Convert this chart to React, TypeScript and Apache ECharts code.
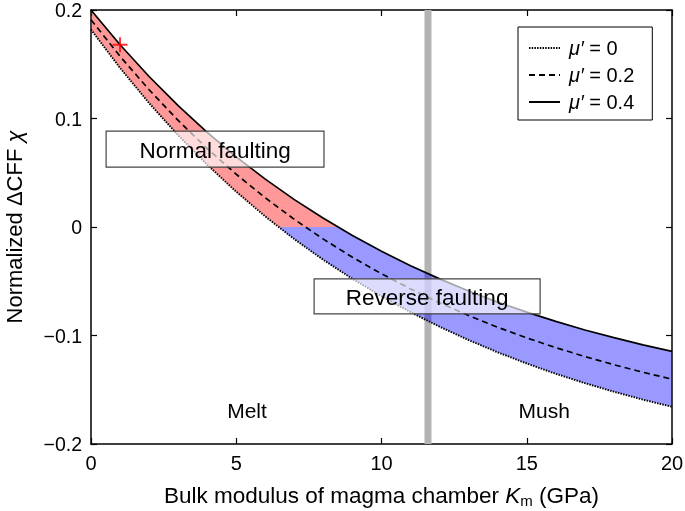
import React, { useEffect, useRef } from 'react';
import * as echarts from 'echarts';

// Bulk modulus of magma chamber K_m (GPa)
const kValues = [0, 1, 2, 3, 4, 5, 6, 7, 8, 9, 10, 11, 12, 13, 14, 15, 16, 17, 18, 19, 20];
// Normalized ΔCFF for μ' = 0 (dotted)
const chiMu0 = [0.182, 0.1466, 0.1142, 0.0846, 0.0574, 0.0325, 0.0097, -0.0112, -0.0303, -0.0478, -0.0638, -0.0785, -0.0919, -0.1042, -0.1155, -0.1258, -0.1353, -0.1439, -0.1518, -0.1591, -0.1657];
// μ' = 0.2 (dashed)
const chiMu02 = [0.191, 0.1573, 0.1265, 0.0982, 0.0723, 0.0486, 0.0269, 0.007, -0.0112, -0.0279, -0.0431, -0.0571, -0.0699, -0.0816, -0.0924, -0.1022, -0.1112, -0.1194, -0.1269, -0.1339, -0.1402];
// μ' = 0.4 (solid)
const chiMu04 = [0.2, 0.168, 0.1387, 0.1118, 0.0872, 0.0647, 0.0441, 0.0252, 0.008, -0.0079, -0.0224, -0.0357, -0.0478, -0.059, -0.0692, -0.0785, -0.087, -0.0949, -0.102, -0.1086, -0.1146];
const muLabels = ['0', '0.2', '0.4'];
const markerPoint = [1, 0.168];
const transitionK = 11.6;
const boxLabels = ['Normal faulting', 'Reverse faulting'];
const boxCorners = [
  [0.52, 0.0883, 8.02, 0.0552],
  [7.68, -0.0478, 15.46, -0.080],
];
const regionLabels = ['Melt', 'Mush'];
const regionAnchors = [[5.37, -0.169], [15.6, -0.169]];

const FONT = '"Liberation Sans", Arial, Helvetica, sans-serif';

function clipHalf(poly: number[][], above: boolean): number[][] {
  const inside = (p: number[]) => (above ? p[1] >= 0 : p[1] <= 0);
  const cross = (a: number[], b: number[]) => {
    const t = a[1] / (a[1] - b[1]);
    return [a[0] + t * (b[0] - a[0]), 0];
  };
  const out: number[][] = [];
  for (let i = 0; i < poly.length; i++) {
    const cur = poly[i];
    const prev = poly[(i + poly.length - 1) % poly.length];
    const ci = inside(cur);
    const pi = inside(prev);
    if (ci) {
      if (!pi) out.push(cross(prev, cur));
      out.push(cur);
    } else if (pi) {
      out.push(cross(prev, cur));
    }
  }
  return out;
}

function fmtY(v: number) {
  if (Math.abs(v) < 1e-9) return '0';
  return (v < 0 ? '\u2212' : '') + Math.abs(v).toFixed(1);
}

export default function App() {
  const ref = useRef<HTMLDivElement>(null);
  useEffect(() => {
    if (!ref.current) return;
    const chart = echarts.init(ref.current, undefined, { renderer: 'svg' });
    const band = [
      ...kValues.map((k, i) => [k, chiMu04[i]]),
      ...kValues.map((k, i) => [k, chiMu0[i]]).reverse(),
    ];
    const axisCommon = {
      type: 'value' as const,
      axisLine: { show: true, onZero: false, lineStyle: { color: '#000', width: 1.5 } },
      axisTick: { show: true, inside: true, length: 6, lineStyle: { color: '#000', width: 1.2 } },
      splitLine: { show: false },
    };
    const option: any = {
      animation: false,
      grid: { left: 91, right: 13, top: 10, bottom: 67, containLabel: false, outerBoundsMode: 'none' },
      legend: {
        orient: 'vertical',
        left: 518,
        top: 27,
        data: muLabels,
        formatter: (n: string) => `{i|\u03bc\u2032} = ${n}`,
        itemWidth: 31,
        itemHeight: 14,
        itemGap: 7,
        borderColor: '#000',
        borderWidth: 1,
        padding: [11, 18, 8, 10],
        itemStyle: { opacity: 0, borderWidth: 0 },
        textStyle: {
          fontSize: 20, color: '#000', fontFamily: FONT, lineHeight: 20, padding: [0, 0, 0, 4],
          rich: { i: { fontStyle: 'italic', fontSize: 20, fontFamily: FONT, lineHeight: 20 } },
        },
      },
      xAxis: [
        {
          ...axisCommon,
          min: 0, max: 20, interval: 5,
          axisLabel: { color: '#000', fontSize: 20, fontFamily: FONT, margin: 9 },
          name: '{a|Bulk modulus of magma chamber }{k|K}{s|m}{a| (GPa)}',
          nameLocation: 'middle',
          nameGap: 38,
          nameTextStyle: {
            color: '#000',
            rich: {
              a: { fontSize: 22.5, fontFamily: FONT, color: '#000', lineHeight: 26, verticalAlign: 'middle' },
              k: { fontSize: 22.5, fontFamily: FONT, color: '#000', fontStyle: 'italic', lineHeight: 26, verticalAlign: 'middle' },
              s: { fontSize: 15, fontFamily: FONT, color: '#000', lineHeight: 15, verticalAlign: 'bottom' },
            },
          },
        },
        {
          ...axisCommon,
          position: 'top',
          min: 0, max: 20, interval: 5,
          axisLabel: { show: false },
        },
      ],
      yAxis: [
        {
          ...axisCommon,
          min: -0.2, max: 0.2, interval: 0.1,
          axisLabel: { color: '#000', fontSize: 19.5, fontFamily: FONT, margin: 9, formatter: fmtY },
          name: '{a|Normalized \u0394CFF }{c|\u03c7}',
          nameLocation: 'middle',
          nameGap: 66,
          nameTextStyle: {
            color: '#000',
            rich: {
              a: { fontSize: 22, fontFamily: FONT, color: '#000' },
              c: { fontSize: 22, fontFamily: FONT, color: '#000', fontStyle: 'italic' },
            },
          },
        },
        {
          ...axisCommon,
          position: 'right',
          min: -0.2, max: 0.2, interval: 0.1,
          axisLabel: { show: false },
        },
      ],
      series: [
        {
          type: 'custom',
          z: 1,
          silent: true,
          data: [[transitionK, 0]],
          renderItem: (_p: any, api: any) => {
            const a = api.coord([transitionK, -0.2]);
            const b = api.coord([transitionK, 0.2]);
            return {
              type: 'line',
              shape: { x1: a[0], y1: a[1], x2: b[0], y2: b[1] },
              style: { stroke: '#b3b3b3', lineWidth: 7 },
            };
          },
        },
        {
          type: 'custom',
          z: 2,
          silent: true,
          data: [[0, 0]],
          renderItem: (_p: any, api: any) => {
            const red = clipHalf(band, true).map((p) => api.coord(p));
            const blue = clipHalf(band, false).map((p) => api.coord(p));
            return {
              type: 'group',
              children: [
                { type: 'polygon', shape: { points: red }, style: { fill: 'rgba(255,0,0,0.4)' } },
                { type: 'polygon', shape: { points: blue }, style: { fill: 'rgba(0,0,255,0.4)' } },
              ],
            };
          },
        },
        {
          name: muLabels[0],
          type: 'line',
          z: 3,
          symbol: 'none',
          data: kValues.map((k, i) => [k, chiMu0[i]]),
          lineStyle: { color: '#000', width: 1.9, type: [1.5, 1.2] },
          itemStyle: { color: '#000' },
        },
        {
          name: muLabels[1],
          type: 'line',
          z: 3,
          symbol: 'none',
          data: kValues.map((k, i) => [k, chiMu02[i]]),
          lineStyle: { color: '#000', width: 1.7, type: [6, 4] },
          itemStyle: { color: '#000' },
        },
        {
          name: muLabels[2],
          type: 'line',
          z: 3,
          symbol: 'none',
          data: kValues.map((k, i) => [k, chiMu04[i]]),
          lineStyle: { color: '#000', width: 1.7, type: 'solid' },
          itemStyle: { color: '#000' },
        },
        {
          type: 'custom',
          z: 10,
          silent: true,
          data: boxLabels.map((_, i) => [boxCorners[i][0], boxCorners[i][1]]),
          renderItem: (p: any, api: any) => {
            const c = boxCorners[p.dataIndex];
            const tl = api.coord([c[0], c[1]]);
            const br = api.coord([c[2], c[3]]);
            return {
              type: 'group',
              children: [
                {
                  type: 'rect',
                  shape: { x: tl[0], y: tl[1], width: br[0] - tl[0], height: br[1] - tl[1] },
                  style: { fill: 'rgba(255,255,255,0.65)', stroke: '#444', lineWidth: 1.2 },
                },
                {
                  type: 'text',
                  x: (tl[0] + br[0]) / 2,
                  y: (tl[1] + br[1]) / 2 + 1,
                  style: {
                    text: boxLabels[p.dataIndex], fill: '#000', fontSize: 22.5, fontFamily: FONT,
                    align: 'center', verticalAlign: 'middle',
                  },
                },
              ],
            };
          },
        },
        {
          type: 'custom',
          z: 10,
          silent: true,
          data: regionAnchors,
          renderItem: (p: any, api: any) => {
            const pt = api.coord(regionAnchors[p.dataIndex]);
            return {
              type: 'text',
              x: pt[0],
              y: pt[1],
              style: {
                text: regionLabels[p.dataIndex], fill: '#000', fontSize: 21, fontFamily: FONT,
                align: 'center', verticalAlign: 'middle',
              },
            };
          },
        },
        {
          type: 'scatter',
          z: 11,
          silent: true,
          data: [markerPoint],
          symbol: 'path://M0,-10 L0,10 M-10,0 L10,0',
          symbolSize: 15,
          itemStyle: { color: 'none', borderColor: '#ff0000', borderWidth: 2 },
        },
      ],
    };
    chart.setOption(option);
    return () => chart.dispose();
  }, []);
  return <div ref={ref} style={{ position: 'fixed', left: 0, top: 0, width: 685, height: 511 }} />;
}
